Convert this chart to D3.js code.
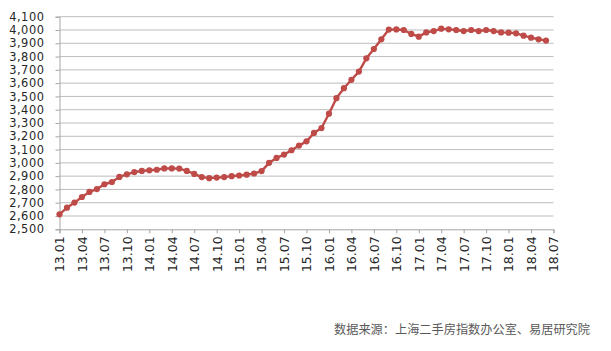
<!DOCTYPE html>
<html>
<head>
<meta charset="utf-8">
<script src="https://cdn.jsdelivr.net/npm/d3@7"></script>
<style>
  html, body { margin: 0; padding: 0; background: #fff; }
  svg { display: block; }
</style>
</head>
<body>
<svg id="chart" width="611" height="351"></svg>
<script>
// ---- data ----
const months = [
  "13.01","13.02","13.03","13.04","13.05","13.06","13.07","13.08","13.09","13.10","13.11","13.12",
  "14.01","14.02","14.03","14.04","14.05","14.06","14.07","14.08","14.09","14.10","14.11","14.12",
  "15.01","15.02","15.03","15.04","15.05","15.06","15.07","15.08","15.09","15.10","15.11","15.12",
  "16.01","16.02","16.03","16.04","16.05","16.06","16.07","16.08","16.09","16.10","16.11","16.12",
  "17.01","17.02","17.03","17.04","17.05","17.06","17.07","17.08","17.09","17.10","17.11","17.12",
  "18.01","18.02","18.03","18.04","18.05","18.06"
];
const indexValues = [
  2613,2663,2701,2743,2781,2803,2839,2856,2894,2914,2931,2939,
  2944,2948,2958,2958,2957,2939,2917,2893,2885,2889,2893,2900,
  2905,2911,2920,2938,3000,3037,3062,3095,3130,3162,3225,3262,
  3370,3487,3562,3625,3687,3787,3857,3930,4003,4004,4000,3970,
  3950,3982,3992,4010,4005,4000,3992,4000,3992,4000,3992,3982,
  3980,3975,3957,3942,3930,3920
];
const xTickLabels = ["13.01","13.04","13.07","13.10","14.01","14.04","14.07","14.10","15.01","15.04","15.07","15.10",
  "16.01","16.04","16.07","16.10","17.01","17.04","17.07","17.10","18.01","18.04","18.07"];
const yTicks = [2500,2600,2700,2800,2900,3000,3100,3200,3300,3400,3500,3600,3700,3800,3900,4000,4100];
const sourceText = "数据来源：上海二手房指数办公室、易居研究院";

// ---- layout ----
const svg = d3.select("#chart");
const plotLeft = 59.5, plotRight = 553.5, plotTop = 16.7, plotBottom = 229.3;
const x = d3.scaleLinear().domain([0, 66]).range([plotLeft, plotRight]);
const y = d3.scaleLinear().domain([2500, 4100]).range([plotBottom, plotTop]);
const font = "'DejaVu Sans', Verdana, sans-serif";

// gridlines
svg.append("g").selectAll("line").data(yTicks.filter(v => v > 2500)).join("line")
  .attr("x1", plotLeft).attr("x2", plotRight)
  .attr("y1", d => y(d)).attr("y2", d => y(d))
  .attr("stroke", "#bdbdbd").attr("stroke-width", 1);

// y axis
const yAxis = d3.axisLeft(y).tickValues(yTicks).tickSize(4).tickPadding(11)
  .tickFormat(d3.format(","));
const gy = svg.append("g").attr("transform", `translate(${plotLeft},0)`).call(yAxis);
gy.select(".domain").attr("stroke", "#a6a6a6");
gy.selectAll(".tick line").attr("stroke", "#a6a6a6");
gy.selectAll("text").attr("font-family", font).attr("font-size", "11.4px")
  .attr("letter-spacing", "0.55px").attr("fill", "#262626");

// x axis
const tickIdx = xTickLabels.map((_, i) => i * 3);
const xAxis = d3.axisBottom(x).tickValues(tickIdx).tickSize(4).tickPadding(3)
  .tickFormat((d, i) => xTickLabels[i]);
const gx = svg.append("g").attr("transform", `translate(0,${plotBottom})`).call(xAxis);
gx.select(".domain").attr("stroke", "#a6a6a6");
gx.selectAll(".tick line").attr("stroke", "#a6a6a6");
gx.selectAll("text")
  .attr("font-family", font).attr("font-size", "12.5px").attr("fill", "#262626")
  .attr("transform", "rotate(-90)")
  .attr("text-anchor", "end")
  .attr("x", -7).attr("y", 0).attr("dy", "0.35em");

// line
const pts = indexValues.map((v, i) => [i, v]);
svg.append("path")
  .datum(pts)
  .attr("fill", "none")
  .attr("stroke", "#be4b48")
  .attr("stroke-width", 2.4)
  .attr("stroke-linejoin", "round")
  .attr("d", d3.line().x(d => x(d[0])).y(d => y(d[1])));

svg.append("g").selectAll("circle").data(pts).join("circle")
  .attr("cx", d => x(d[0])).attr("cy", d => y(d[1]))
  .attr("r", 3.1)
  .attr("fill", "#be4b48");

// source
svg.append("text")
  .attr("x", 590).attr("y", 334)
  .attr("text-anchor", "end")
  .attr("font-family", "'Noto Sans CJK SC', sans-serif")
  .attr("font-size", "12.2px")
  .attr("fill", "#595959")
  .text(sourceText);
</script>
</body>
</html>
